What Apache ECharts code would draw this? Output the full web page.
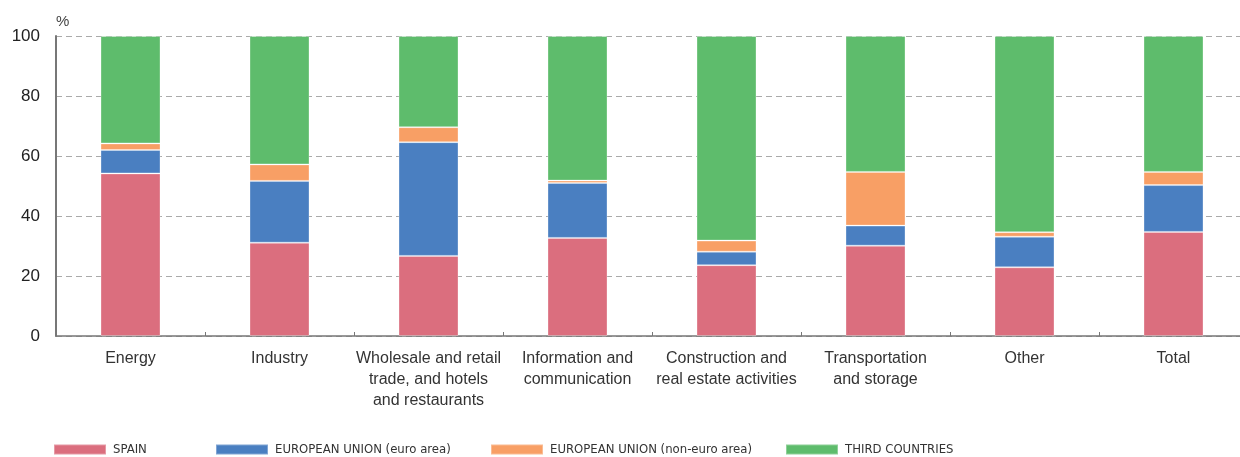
<!DOCTYPE html>
<html>
<head>
<meta charset="utf-8">
<script src="https://cdn.jsdelivr.net/npm/echarts@6/dist/echarts.min.js"></script>
<style>
  html, body { margin: 0; padding: 0; background: #fff; }
  #chart { width: 1240px; height: 457px; }
</style>
</head>
<body>
<div id="chart"></div>
<script>
// sectors on the x axis
const categories = [
  'Energy',
  'Industry',
  'Wholesale and retail\ntrade, and hotels\nand restaurants',
  'Information and\ncommunication',
  'Construction and\nreal estate activities',
  'Transportation\nand storage',
  'Other',
  'Total'
];

// shares in %
const spain       = [54.2, 31.1, 26.7, 32.7, 23.6, 30.1, 22.9, 34.7];
const euEuro      = [7.8, 20.6, 37.9, 18.3, 4.5, 6.7, 10.2, 15.6];
const euNonEuro   = [2.2, 5.5, 5.0, 0.8, 3.7, 17.9, 1.5, 4.4];
const thirdCountr = [35.8, 42.8, 30.4, 48.2, 68.2, 45.3, 65.4, 45.3];

const seriesNames = ['SPAIN', 'EUROPEAN UNION (euro area)', 'EUROPEAN UNION (non-euro area)', 'THIRD COUNTRIES'];
const colors = ['#db6e7e', '#4a7fc1', '#f89f65', '#5ebc6c'];
const legendLeft = [53, 215, 490, 785];

const chart = echarts.init(document.getElementById('chart'));

const font = '"Liberation Sans", Arial, sans-serif';
const narrow = '"Liberation Sans Narrow", "DejaVu Sans Condensed", "Liberation Sans", sans-serif';

const seriesData = [spain, euEuro, euNonEuro, thirdCountr];

chart.setOption({
  animation: false,
  textStyle: { fontFamily: font },
  // plot runs a bit past the right edge of the canvas in the original
  grid: { left: 56, top: 36, width: 1192, bottom: 121, outerBoundsMode: 'none' },
  // one legend per item so each sits where the original put it
  legend: seriesNames.map((n, i) => ({
    data: [n],
    left: legendLeft[i],
    top: 443,
    padding: 0,
    itemWidth: 52,
    itemHeight: 10,
    itemGap: 0,
    icon: 'rect',
    textStyle: { fontFamily: narrow, fontSize: 13, color: '#333', padding: [0, 0, 0, 2] }
  })),
  xAxis: {
    type: 'category',
    data: categories,
    axisLine: { lineStyle: { color: '#777', width: 1.5 } },
    axisTick: { show: true, inside: true, length: 4, lineStyle: { color: '#777' } },
    axisLabel: {
      interval: 0,
      margin: 12,
      fontSize: 16,
      lineHeight: 21,
      color: '#333',
      fontFamily: font
    }
  },
  yAxis: {
    type: 'value',
    min: 0,
    max: 100,
    interval: 20,
    name: '%',
    nameGap: 7,
    nameTextStyle: { color: '#444', fontSize: 15, align: 'left', padding: [0, 0, 0, 0] },
    axisLine: { show: true, lineStyle: { color: '#777', width: 2 } },
    axisTick: { show: false },
    axisLabel: { margin: 16, fontSize: 17, color: '#222' },
    splitLine: { lineStyle: { color: '#aaa', type: [6, 4], width: 1 } }
  },
  series: seriesNames.map((n, i) => ({
    name: n,
    type: 'bar',
    stack: 'all',
    barWidth: 60,
    data: seriesData[i],
    itemStyle: { color: colors[i], borderColor: 'rgba(255,255,255,0.3)', borderWidth: 1 }
  }))
});
</script>
</body>
</html>
